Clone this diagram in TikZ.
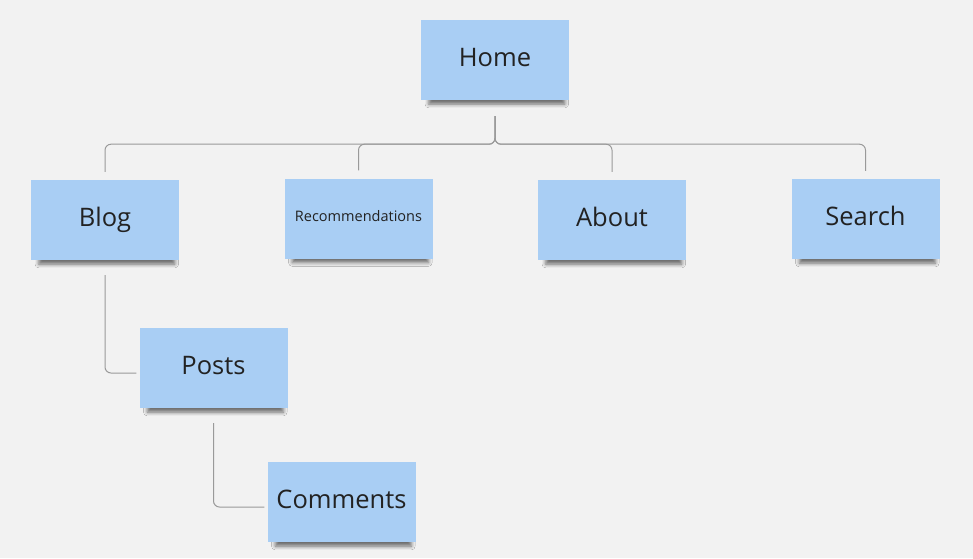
\documentclass[tikz,border=0pt]{standalone}
\usepackage{fontspec}
\setmainfont{Open Sans}
\usepackage{tikz}
\usetikzlibrary{shadows.blur}

\definecolor{notefill}{HTML}{A9CEF4}
\definecolor{boardbg}{HTML}{F2F2F2}
\definecolor{linkgray}{HTML}{9A9A9A}
\definecolor{notetext}{HTML}{222222}

\begin{document}
\begin{tikzpicture}[
			x=1pt, y=-1pt,
			note/.style={shape=rectangle, fill=notefill, text=notetext,
				minimum width=148pt, minimum height=80pt, inner sep=0pt,
				font=\fontsize{25.5}{30}\selectfont, text height=20pt, text depth=8pt,
				blur shadow={shadow xshift=2pt, shadow yshift=-8pt,
					shadow opacity=55, shadow blur radius=4pt, shadow scale=0.92}},
			small note/.style={note, font=\fontsize{14.5}{17}\selectfont,
				text height=11pt, text depth=6pt},
			link/.style={draw=linkgray, line width=1pt, rounded corners=6pt},
			top link/.style={link, shorten <=16pt, shorten >=8pt},
			side link/.style={link, shorten <=15pt, shorten >=3pt}
			]
			
			% board
			\fill[boardbg] (0,0) rectangle (973,558);
			\useasboundingbox (0,0) rectangle (973,558);
			
			% Root node (top of the hierarchy)
			\node[note] (home) at (495,60) {Home};
			
			% First level
			\node[note] (blog) at (105,220) {Blog};
			\node[small note] (recs) at (358.5,218.5) {Recommendations};
			\node[note] (about) at (612,220) {About};
			\node[note] (search) at (865.5,219) {Search};
			
			% Below the blog
			\node[note] (posts) at (213.5,368) {Posts};
			\node[note] (comments) at (341.5,502) {Comments};
			
			% Connectors
			\foreach \child in {blog,recs,about,search}
				\draw[top link] (home.south) -- ++(0,44) -| (\child.north);
			\draw[side link] (blog.south) |- ([yshift=-5pt]posts.west);
			\draw[side link] (posts.south) |- ([yshift=-5pt]comments.west);
			
		\end{tikzpicture}
\end{document}
